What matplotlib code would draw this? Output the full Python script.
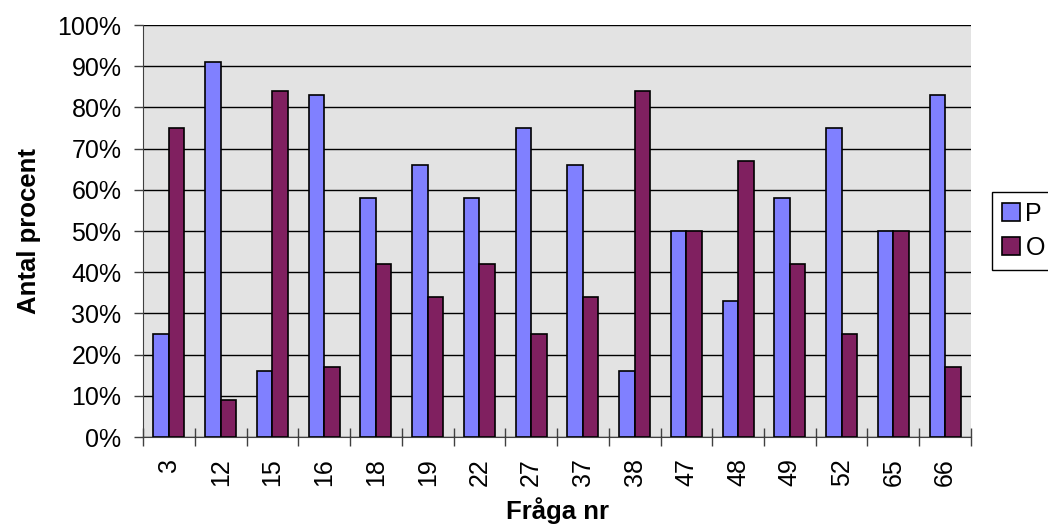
import numpy as np
import matplotlib.pyplot as plt
from matplotlib.ticker import PercentFormatter

plt.rcParams['font.family'] = ['Liberation Sans', 'DejaVu Sans']

questions = ['3', '12', '15', '16', '18', '19', '22', '27', '37', '38',
             '47', '48', '49', '52', '65', '66']
p_values = [25, 91, 16, 83, 58, 66, 58, 75, 66, 16, 50, 33, 58, 75, 50, 83]
o_values = [75, 9, 84, 17, 42, 34, 42, 25, 34, 84, 50, 67, 42, 25, 50, 17]

fig = plt.figure(figsize=(10.48, 5.29), dpi=100)
ax = fig.add_axes([0.1365, 0.1739, 0.79, 0.7788])
ax.set_facecolor('#E3E3E3')

x = np.arange(len(questions))
w = 0.3
ax.bar(x - w / 2, p_values, w, color='#8080FF', edgecolor='black', linewidth=1.2, label='P', zorder=3)
ax.bar(x + w / 2, o_values, w, color='#802060', edgecolor='black', linewidth=1.2, label='O', zorder=3)

ax.set_xlim(-0.5, len(questions) - 0.5)
ax.set_ylim(0, 100)
ax.set_yticks(range(0, 101, 10))
ax.yaxis.set_major_formatter(PercentFormatter(decimals=0))
ax.grid(axis='y', color='black', linewidth=1, zorder=1)

# category labels in the middle, ticks between categories
ax.set_xticks(x)
ax.set_xticklabels(questions, rotation=90)
ax.set_xticks(np.arange(-0.5, len(questions)), minor=True)
ax.tick_params(axis='x', which='major', length=0, pad=15, labelsize=18)
ax.tick_params(axis='x', which='minor', length=13, direction='inout', color='#404040', width=1)
ax.tick_params(axis='y', length=6.5, width=1, color='#404040', labelsize=18, pad=9)

for side in ['top', 'right']:
    ax.spines[side].set_visible(False)
ax.spines['left'].set_color('#404040')
ax.spines['bottom'].set_color('#404040')

ax.set_xlabel('Fråga nr', fontsize=18.5, fontweight='bold', labelpad=8)
ax.set_ylabel('Antal procent', fontsize=18.5, fontweight='bold', labelpad=12)

leg = ax.legend(loc='center left', bbox_to_anchor=(1.025, 0.5), fontsize=18,
                frameon=True, fancybox=False, edgecolor='black', framealpha=1,
                handlelength=0.75, handleheight=0.75, handletextpad=0.2,
                borderpad=0.4, labelspacing=0.4, borderaxespad=0)
leg.get_frame().set_linewidth(1)

fig.savefig('out.png', dpi=100)
